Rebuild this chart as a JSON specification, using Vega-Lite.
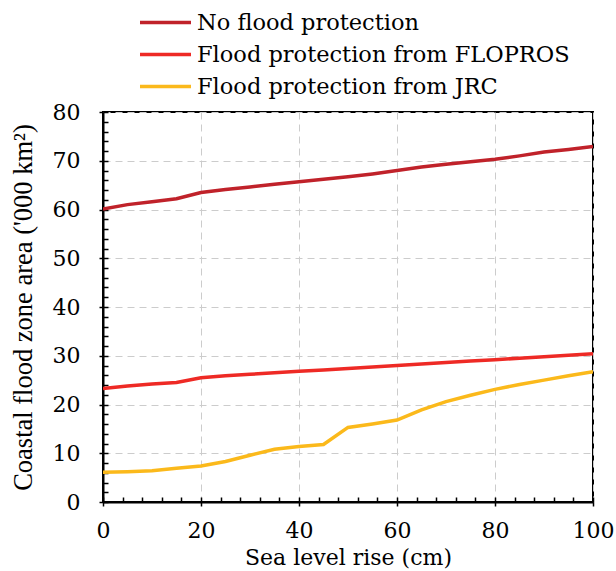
{
  "$schema": "https://vega.github.io/schema/vega-lite/v6.json",
  "width": 490,
  "height": 390,
  "autosize": {"type": "none"},
  "padding": {"left": 103, "top": 112, "right": 23, "bottom": 69},
  "background": "white",
  "config": {
    "font": "DejaVu Serif",
    "view": {"stroke": "black", "strokeWidth": 2}
  },
  "data": {
    "values": [
      {"slr": 0, "series": "No flood protection", "area": 60.1},
      {"slr": 5, "series": "No flood protection", "area": 61.0},
      {"slr": 10, "series": "No flood protection", "area": 61.6},
      {"slr": 15, "series": "No flood protection", "area": 62.2},
      {"slr": 20, "series": "No flood protection", "area": 63.5},
      {"slr": 25, "series": "No flood protection", "area": 64.1},
      {"slr": 30, "series": "No flood protection", "area": 64.6},
      {"slr": 35, "series": "No flood protection", "area": 65.2},
      {"slr": 40, "series": "No flood protection", "area": 65.7},
      {"slr": 45, "series": "No flood protection", "area": 66.2},
      {"slr": 50, "series": "No flood protection", "area": 66.7},
      {"slr": 55, "series": "No flood protection", "area": 67.3},
      {"slr": 60, "series": "No flood protection", "area": 68.0},
      {"slr": 65, "series": "No flood protection", "area": 68.7},
      {"slr": 70, "series": "No flood protection", "area": 69.3},
      {"slr": 75, "series": "No flood protection", "area": 69.8},
      {"slr": 80, "series": "No flood protection", "area": 70.3},
      {"slr": 85, "series": "No flood protection", "area": 71.0},
      {"slr": 90, "series": "No flood protection", "area": 71.8},
      {"slr": 95, "series": "No flood protection", "area": 72.3},
      {"slr": 100, "series": "No flood protection", "area": 72.9},
      {"slr": 0, "series": "Flood protection from FLOPROS", "area": 23.3},
      {"slr": 5, "series": "Flood protection from FLOPROS", "area": 23.8},
      {"slr": 10, "series": "Flood protection from FLOPROS", "area": 24.2},
      {"slr": 15, "series": "Flood protection from FLOPROS", "area": 24.5},
      {"slr": 20, "series": "Flood protection from FLOPROS", "area": 25.5},
      {"slr": 25, "series": "Flood protection from FLOPROS", "area": 25.9},
      {"slr": 30, "series": "Flood protection from FLOPROS", "area": 26.2},
      {"slr": 35, "series": "Flood protection from FLOPROS", "area": 26.5},
      {"slr": 40, "series": "Flood protection from FLOPROS", "area": 26.8},
      {"slr": 45, "series": "Flood protection from FLOPROS", "area": 27.1},
      {"slr": 50, "series": "Flood protection from FLOPROS", "area": 27.4},
      {"slr": 55, "series": "Flood protection from FLOPROS", "area": 27.7},
      {"slr": 60, "series": "Flood protection from FLOPROS", "area": 28.0},
      {"slr": 65, "series": "Flood protection from FLOPROS", "area": 28.3},
      {"slr": 70, "series": "Flood protection from FLOPROS", "area": 28.6},
      {"slr": 75, "series": "Flood protection from FLOPROS", "area": 28.9},
      {"slr": 80, "series": "Flood protection from FLOPROS", "area": 29.2},
      {"slr": 85, "series": "Flood protection from FLOPROS", "area": 29.5},
      {"slr": 90, "series": "Flood protection from FLOPROS", "area": 29.8},
      {"slr": 95, "series": "Flood protection from FLOPROS", "area": 30.1},
      {"slr": 100, "series": "Flood protection from FLOPROS", "area": 30.4},
      {"slr": 0, "series": "Flood protection from JRC", "area": 6.1},
      {"slr": 5, "series": "Flood protection from JRC", "area": 6.2},
      {"slr": 10, "series": "Flood protection from JRC", "area": 6.4},
      {"slr": 15, "series": "Flood protection from JRC", "area": 6.9},
      {"slr": 20, "series": "Flood protection from JRC", "area": 7.4},
      {"slr": 25, "series": "Flood protection from JRC", "area": 8.3},
      {"slr": 30, "series": "Flood protection from JRC", "area": 9.6},
      {"slr": 35, "series": "Flood protection from JRC", "area": 10.8},
      {"slr": 40, "series": "Flood protection from JRC", "area": 11.4},
      {"slr": 45, "series": "Flood protection from JRC", "area": 11.8},
      {"slr": 50, "series": "Flood protection from JRC", "area": 15.3},
      {"slr": 55, "series": "Flood protection from JRC", "area": 16.0},
      {"slr": 60, "series": "Flood protection from JRC", "area": 16.8},
      {"slr": 65, "series": "Flood protection from JRC", "area": 18.9},
      {"slr": 70, "series": "Flood protection from JRC", "area": 20.6},
      {"slr": 75, "series": "Flood protection from JRC", "area": 21.9},
      {"slr": 80, "series": "Flood protection from JRC", "area": 23.1},
      {"slr": 85, "series": "Flood protection from JRC", "area": 24.1},
      {"slr": 90, "series": "Flood protection from JRC", "area": 25.0},
      {"slr": 95, "series": "Flood protection from JRC", "area": 25.9},
      {"slr": 100, "series": "Flood protection from JRC", "area": 26.7}
    ]
  },
  "layer": [
    {
      "mark": {"type": "line", "strokeWidth": 3.5, "opacity": 0},
      "encoding": {
        "x": {
          "field": "slr", "type": "quantitative",
          "scale": {"domain": [0, 100], "nice": false, "zero": false},
          "axis": {
            "orient": "bottom",
            "title": null,
            "values": [0,4,8,12,16,20,24,28,32,36,40,44,48,52,56,60,64,68,72,76,80,84,88,92,96,100],
            "labels": false,
            "domain": false,
            "grid": false,
            "ticks": true,
            "tickColor": "black",
            "tickWidth": 1.5,
            "tickSize": -5
          }
        },
        "y": {
          "field": "area", "type": "quantitative",
          "scale": {"domain": [0, 80], "nice": false},
          "axis": {
            "orient": "left",
            "title": null,
            "values": [0,2,4,6,8,10,12,14,16,18,20,22,24,26,28,30,32,34,36,38,40,42,44,46,48,50,52,54,56,58,60,62,64,66,68,70,72,74,76,78,80],
            "labels": false,
            "domain": false,
            "grid": false,
            "ticks": true,
            "tickColor": "black",
            "tickWidth": 1.5,
            "tickSize": -5
          }
        },
        "detail": {"field": "series"}
      }
    },
    {
      "mark": {"type": "line", "strokeWidth": 3.5, "clip": true},
      "encoding": {
        "x": {
          "field": "slr", "type": "quantitative",
          "scale": {"domain": [0, 100], "nice": false, "zero": false},
          "axis": {
            "orient": "bottom",
            "title": "Sea level rise (cm)",
            "values": [0, 20, 40, 60, 80, 100],
            "labelFont": "DejaVu Serif",
            "labelFontSize": 22,
            "labelColor": "black",
            "labelPadding": 14,
            "labelFlush": false,
            "titleFont": "DejaVu Serif",
            "titleFontSize": 22,
            "titleFontWeight": "normal",
            "titleColor": "black",
            "titlePadding": 6,
            "domainColor": "black",
            "domainWidth": 2,
            "tickColor": "black",
            "tickWidth": 1.5,
            "tickSize": 4,
            "grid": true,
            "gridColor": "#cccccc",
            "gridDash": [7, 5],
            "gridWidth": 1
          }
        },
        "y": {
          "field": "area", "type": "quantitative",
          "scale": {"domain": [0, 80], "nice": false},
          "axis": {
            "orient": "left",
            "title": "Coastal flood zone area ('000 km²)",
            "values": [0, 10, 20, 30, 40, 50, 60, 70, 80],
            "labelFont": "DejaVu Serif",
            "labelFontSize": 22,
            "labelColor": "black",
            "labelPadding": 19,
            "titleFont": "Tinos",
            "titleFontSize": 26.5,
            "titleFontWeight": "normal",
            "titleColor": "black",
            "titlePadding": 15,
            "domainColor": "black",
            "domainWidth": 2,
            "tickColor": "black",
            "tickWidth": 1.5,
            "tickSize": 4,
            "grid": true,
            "gridColor": "#cccccc",
            "gridDash": [7, 5],
            "gridWidth": 1
          }
        },
        "color": {
          "field": "series", "type": "nominal",
          "scale": {
            "domain": ["No flood protection", "Flood protection from FLOPROS", "Flood protection from JRC"],
            "range": ["#c0222a", "#ee2a25", "#fbb91b"]
          },
          "legend": {
            "title": null,
            "orient": "none",
            "legendX": 48,
            "legendY": -104,
            "symbolType": "M-2,0H2",
            "symbolSize": 650,
            "symbolStrokeWidth": 3.5,
            "labelFont": "DejaVu Serif",
            "labelFontSize": 22.5,
            "labelColor": "black",
            "labelOffset": 17,
            "rowPadding": 6,
            "labelLimit": 600
          }
        }
      }
    }
  ],
  "resolve": {"axis": {"x": "independent", "y": "independent"}}
}
